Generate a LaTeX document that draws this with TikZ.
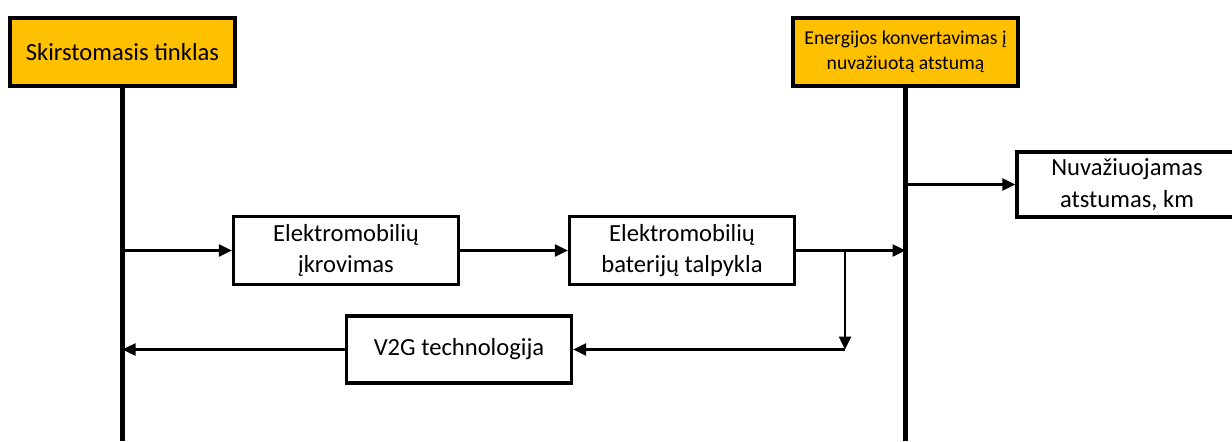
\documentclass[tikz,border=0pt]{standalone}
\usepackage{fontspec}
\setmainfont{Carlito}
\usetikzlibrary{arrows.meta}
\definecolor{hdrorange}{HTML}{FFC000}
\tikzset{
	hdrbox/.style={draw, line width=2.2pt, fill=hdrorange, minimum width=4.5cm, minimum height=1.36cm, align=center, inner sep=2pt},
	flowbox/.style={draw, line width=1.8pt, fill=white, minimum width=4.5cm, minimum height=1.36cm, align=center, inner sep=2pt},
	lifeline/.style={line width=2.8pt},
	flow/.style={line width=1.4pt, ->}
}
\begin{document}
\begin{tikzpicture}[ font=\fontsize{14}{18}\selectfont, line join=miter, >={Triangle[length=2.6mm,width=2.4mm]}]
		\useasboundingbox (0,0) rectangle (24.64,8.82);
		% header boxes and their vertical lines
		\node[hdrbox] (grid) at (2.45,7.78) {Skirstomasis tinklas};
		\node[hdrbox, font=\fontsize{11.2}{14}\selectfont] (conv) at (18.11,7.78) {Energijos konvertavimas į\\nuvažiuotą atstumą};
		\coordinate (gridend) at (2.45,0);
		\coordinate (convend) at (18.11,0);
		\draw[lifeline] (grid.south) -- (gridend);
		\draw[lifeline] (conv.south) -- (convend);
		% process boxes
		\node[flowbox, minimum width=4.4cm, minimum height=1.3cm] (dist) at (22.54,5.13) {Nuvažiuojamas\\atstumas, km};
		\node[flowbox] (charge) at (6.92,3.81) {Elektromobilių\\įkrovimas};
		\node[flowbox] (store) at (13.64,3.81) {Elektromobilių\\baterijų talpykla};
		\node[flowbox, minimum height=1.34cm] (v2g) at (9.18,1.83) {V2G technologija};
		% connectors
		\coordinate (split) at (16.9,3.81);
		\coordinate (turn) at (16.9,1.83);
		\draw[flow] (grid.south |- charge.west) -- (charge.west);
		\draw[flow] (charge) -- (store);
		\draw[flow] (store.east) -- (conv.south |- store.east);
		\draw[flow] (conv.south |- dist.west) -- (dist.west);
		\draw[flow] (split) -- (turn);
		\draw[flow] (turn) -- (v2g.east);
		\draw[flow] (v2g.west) -- (grid.south |- v2g.west);
\end{tikzpicture}
\end{document}
